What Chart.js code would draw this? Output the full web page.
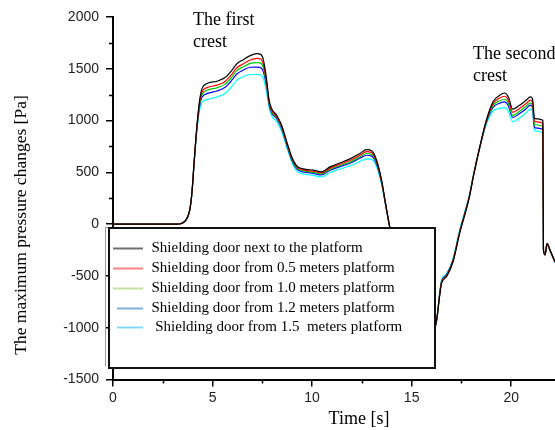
<!DOCTYPE html>
<html>
<head>
<meta charset="utf-8">
<script src="https://cdn.jsdelivr.net/npm/chart.js@4/dist/chart.umd.min.js"></script>
<style>
  body { margin: 0; background: #fff; overflow: hidden; }
  canvas { display: block; }
</style>
</head>
<body>
<canvas id="pressure" width="555" height="430"></canvas>
<script>
// Temps [s]
const time = [0, 3.2, 3.63, 3.85, 3.96, 4.08, 4.21, 4.35, 4.47, 4.72, 5.22, 5.63, 5.97, 6.22, 6.55, 6.89, 7.22, 7.42, 7.55, 7.72,
  7.84, 7.97, 8.22, 8.47, 8.73, 8.98, 9.23, 9.56, 10.06, 10.48, 10.9, 11.4, 11.9, 12.4, 12.74, 12.99, 13.24, 13.49, 13.69, 13.87,
  14.3, 15.0, 15.6, 16.0, 16.2, 16.28, 16.4, 16.5, 16.75, 17.08, 17.41, 17.9, 18.1, 18.42, 18.75, 19.08, 19.42, 19.67, 19.85, 20.08,
  20.4, 20.75, 20.96, 21.07, 21.17, 21.59, 21.62, 21.7, 21.8, 21.95, 22.2];

// Variation de pression [Pa] par position de porte
const doorNext = [0, 0, 32, 135, 296, 617, 938, 1196, 1308, 1357, 1380, 1415, 1485, 1549, 1588, 1627, 1646, 1639, 1588, 1389,
  1196, 1115, 1051, 955, 794, 649, 563, 534, 521, 505, 553, 591, 630, 682, 720, 708, 617, 424, 200, 0,
  -400, -800, -1000, -1050, -980, -894, -700, -572, -508, -363, -90, 260, 460, 745, 1003, 1180, 1244, 1266, 1230, 1110,
  1145, 1196, 1228, 1210, 1019, 1003, -250, -299, -186, -250, -363];
const door05 = [0, 0, 32, 134, 294, 612, 930, 1175, 1275, 1318, 1342, 1378, 1447, 1510, 1548, 1585, 1601, 1595, 1545, 1360,
  1180, 1098, 1038, 942, 782, 638, 553, 524, 511, 495, 541, 578, 614, 665, 700, 690, 602, 415, 195, 0,
  -400, -800, -1000, -1050, -980, -894, -695, -566, -502, -356, -84, 265, 462, 742, 995, 1160, 1218, 1235, 1200, 1080,
  1115, 1165, 1198, 1180, 990, 975, -250, -296, -190, -252, -365];
const door10 = [0, 0, 32, 133, 292, 608, 922, 1158, 1250, 1292, 1316, 1352, 1420, 1482, 1520, 1552, 1559, 1555, 1510, 1340,
  1168, 1085, 1028, 932, 772, 628, 543, 514, 500, 485, 530, 566, 600, 650, 682, 673, 590, 408, 192, 0,
  -400, -800, -1000, -1050, -980, -894, -690, -560, -496, -350, -78, 270, 465, 740, 988, 1142, 1192, 1206, 1170, 1050,
  1087, 1138, 1170, 1150, 960, 945, -250, -293, -193, -254, -367];
const door12 = [0, 0, 32, 132, 290, 604, 915, 1140, 1225, 1260, 1285, 1322, 1390, 1450, 1488, 1515, 1517, 1510, 1470, 1320,
  1155, 1072, 1018, 922, 762, 618, 533, 504, 490, 475, 520, 555, 588, 636, 665, 657, 578, 400, 188, 0,
  -400, -800, -1000, -1050, -980, -894, -685, -555, -490, -344, -72, 275, 468, 738, 980, 1125, 1168, 1180, 1145, 1030,
  1065, 1115, 1150, 1128, 930, 915, -250, -290, -196, -256, -369];
const door15 = [0, 0, 30, 130, 286, 598, 900, 1100, 1175, 1202, 1228, 1262, 1330, 1390, 1425, 1445, 1446, 1440, 1405, 1270,
  1125, 1045, 990, 895, 740, 598, 512, 484, 470, 455, 498, 532, 563, 605, 630, 624, 552, 385, 180, 0,
  -400, -800, -1000, -1050, -980, -894, -675, -540, -478, -330, -55, 285, 475, 735, 965, 1090, 1118, 1125, 1092, 990,
  1022, 1075, 1110, 1090, 900, 880, -250, -287, -199, -258, -371];

const seriesLabels = [
  'Shielding door next to the platform',
  'Shielding door from 0.5 meters platform',
  'Shielding door from 1.0 meters platform',
  'Shielding door from 1.2 meters platform',
  ' Shielding door from 1.5  meters platform'
];
const seriesValues = [doorNext, door05, door10, door12, door15];
const lineColors = ['#000000', '#ff0000', '#00cc00', '#0000ff', '#00ffff'];
const legendColors = ['#707070', '#ff8080', '#c0e0a0', '#80b0e0', '#80d8f8'];

const SERIF = '"Liberation Serif", "Times New Roman", serif';
const SANS = '"Liberation Sans", Arial, sans-serif';

// graduations secondaires, legende, annotations et titres
const decorations = {
  id: 'decorations',
  afterDatasetsDraw(chart) {
    const { ctx, scales: { x, y } } = chart;
    const area = chart.chartArea;
    ctx.save();

    ctx.strokeStyle = '#000';
    ctx.lineWidth = 1.5;
    ctx.beginPath();
    for (let v = -1250; v < 2000; v += 500) {
      const py = Math.round(y.getPixelForValue(v)) + 0.5;
      ctx.moveTo(area.left - 4, py);
      ctx.lineTo(area.left, py);
    }
    for (let v = 2.5; v < x.max; v += 5) {
      const px = Math.round(x.getPixelForValue(v)) + 0.5;
      ctx.moveTo(px, area.bottom);
      ctx.lineTo(px, area.bottom + 4);
    }
    ctx.stroke();

    // legende
    ctx.fillStyle = '#fff';
    ctx.fillRect(108, 227, 327, 141);
    ctx.strokeStyle = '#999';
    ctx.lineWidth = 1;
    ctx.beginPath();
    ctx.moveTo(105.5, 227);
    ctx.lineTo(105.5, 366);
    ctx.moveTo(105, 227.5);
    ctx.lineTo(108, 227.5);
    ctx.stroke();
    ctx.strokeStyle = '#111';
    ctx.lineWidth = 2;
    ctx.strokeRect(109, 228, 326, 140);

    const rows = [248.5, 268.5, 288.5, 308.5, 327.5];
    ctx.font = '15px ' + SERIF;
    ctx.textBaseline = 'middle';
    ctx.textAlign = 'left';
    seriesLabels.forEach((label, i) => {
      ctx.strokeStyle = legendColors[i];
      ctx.lineWidth = 2;
      ctx.beginPath();
      ctx.moveTo(i < 3 ? 113 : 117, rows[i]);
      ctx.lineTo(143, rows[i]);
      ctx.stroke();
      ctx.fillStyle = '#000';
      ctx.fillText(label, 151.5, rows[i]);
    });

    // annotations
    ctx.font = '18px ' + SERIF;
    ctx.textBaseline = 'alphabetic';
    ctx.fillText('The first', 193, 25);
    ctx.fillText('crest', 193, 47);
    ctx.fillText('The second', 473, 59);
    ctx.fillText('crest', 473, 81);

    // titres des axes
    ctx.textAlign = 'center';
    ctx.textBaseline = 'middle';
    ctx.fillText('Time [s]', 359, 419);
    ctx.translate(21, 225);
    ctx.rotate(-Math.PI / 2);
    ctx.font = '17.5px ' + SERIF;
    ctx.fillText('The maximum pressure changes [Pa]', 0, 0);
    ctx.restore();
  }
};

const pressure = document.getElementById('pressure');

new Chart(pressure, {
  type: 'line',
  data: {
    labels: time,
    datasets: seriesValues.map((values, i) => ({
      label: seriesLabels[i],
      data: values.map((v, k) => ({ x: time[k], y: v })),
      borderColor: lineColors[i],
      borderWidth: 1.2,
      pointRadius: 0,
      cubicInterpolationMode: 'monotone',
      fill: false
    }))
  },
  options: {
    responsive: false,
    animation: false,
    devicePixelRatio: 1,
    layout: { padding: { top: 17, right: 0, left: 0, bottom: 0 } },
    plugins: {
      legend: { display: false },
      tooltip: { enabled: false }
    },
    scales: {
      x: {
        type: 'linear',
        min: 0,
        max: 22.2,
        afterFit: s => { s.height = 50.5; },
        ticks: {
          stepSize: 5,
          includeBounds: false,
          autoSkip: false,
          padding: 3,
          maxRotation: 0,
          color: '#222',
          font: { family: SANS, size: 14 },
          callback: v => String(v)
        },
        grid: { drawOnChartArea: false, drawTicks: true, tickLength: 7, color: '#000', lineWidth: 1.5 },
        border: { display: true, color: '#000', width: 2 }
      },
      y: {
        min: -1500,
        max: 2000,
        afterFit: s => { s.width = 113; },
        ticks: {
          stepSize: 500,
          includeBounds: false,
          padding: 7,
          color: '#222',
          font: { family: SANS, size: 14 },
          callback: v => String(v)
        },
        grid: { drawOnChartArea: false, drawTicks: true, tickLength: 7, color: '#000', lineWidth: 1.5 },
        border: { display: true, color: '#000', width: 2 }
      }
    }
  },
  plugins: [decorations]
});
</script>
</body>
</html>
